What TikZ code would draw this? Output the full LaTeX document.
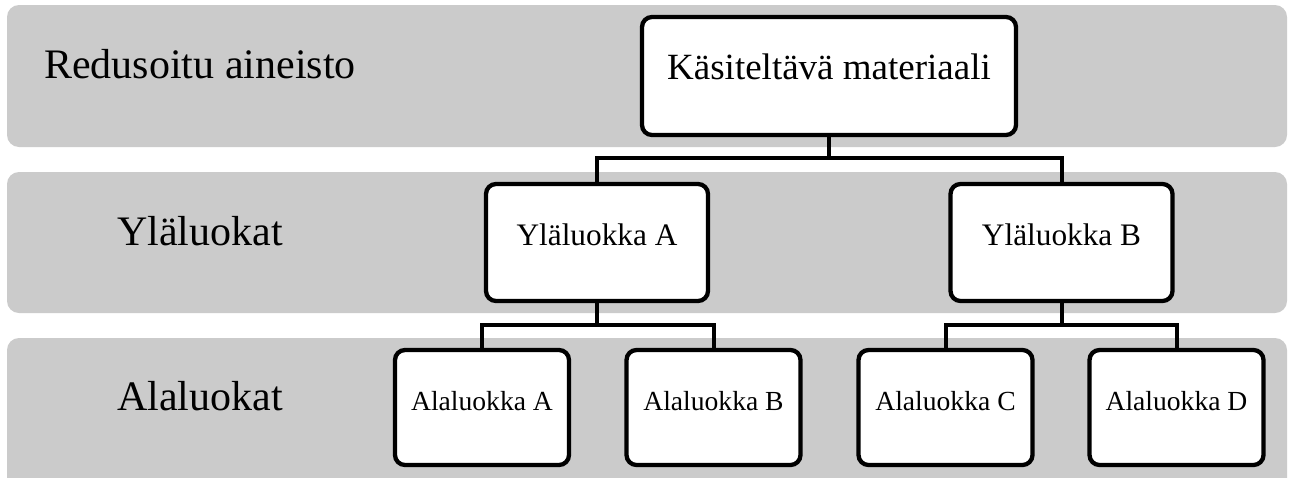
\documentclass[tikz,border=0pt]{standalone}
\usepackage{fontspec}
\setmainfont{Liberation Serif}
\definecolor{bandgray}{HTML}{CBCBCB}
\tikzset{
  x=1pt, y=-1pt,
  band/.style={fill=bandgray, rounded corners=12pt},
  tier/.style={inner sep=0pt, text height=0.662em, text depth=0pt,
    font=\fontsize{42}{42}\selectfont},
  box/.style={draw=black, fill=white, line width=4.3pt, rounded corners=10pt,
    inner sep=0pt, text height=0.662em, text depth=0pt, align=center},
  topbox/.style={box, minimum width=374pt, minimum height=118pt,
    font=\fontsize{37}{37}\selectfont},
  midbox/.style={box, minimum width=222pt, minimum height=117pt,
    font=\fontsize{31.3}{31.3}\selectfont},
  lowbox/.style={box, minimum width=174pt, minimum height=115pt,
    font=\fontsize{27.6}{27.6}\selectfont},
  conn/.style={draw=black, line width=4pt},
}
\begin{document}
\begin{tikzpicture}
  \fill[white] (0,0) rectangle (1291,477);
  \useasboundingbox (0,0) rectangle (1291,477);
  \clip (0,0) rectangle (1291,477);

  % level bands
  \fill[band] (7,5) rectangle (1287,147);
  \fill[band] (7,172) rectangle (1287,313);
  \fill[band] (7,338) rectangle (1287,495);

  % level names
  \node[tier] (lvl1) at (200,75) {Redusoitu aineisto};
  \node[tier] (lvl2) at (200,242) {Yläluokat};
  \node[tier] (lvl3) at (200,407) {Alaluokat};

  % hierarchy boxes
  \node[topbox] (root) at (829,76) {Käsiteltävä materiaali};
  \node[midbox] (ya) at (597,242.5) {Yläluokka A};
  \node[midbox] (yb) at (1061.5,242.5) {Yläluokka B};
  \node[lowbox] (aa) at (482,407.5) {Alaluokka A};
  \node[lowbox] (ab) at (713.5,407.5) {Alaluokka B};
  \node[lowbox] (ac) at (945.5,407.5) {Alaluokka C};
  \node[lowbox] (ad) at (1176.5,407.5) {Alaluokka D};

  % elbow connectors
  \draw[conn] (root.south) -- ++(0,21) -| (ya.north);
  \draw[conn] (root.south) -- ++(0,21) -| (yb.north);
  \draw[conn] (ya.south) -- ++(0,22) -| (aa.north);
  \draw[conn] (ya.south) -- ++(0,22) -| (ab.north);
  \draw[conn] (yb.south) -- ++(0,22) -| (ac.north);
  \draw[conn] (yb.south) -- ++(0,22) -| (ad.north);
\end{tikzpicture}
\end{document}
